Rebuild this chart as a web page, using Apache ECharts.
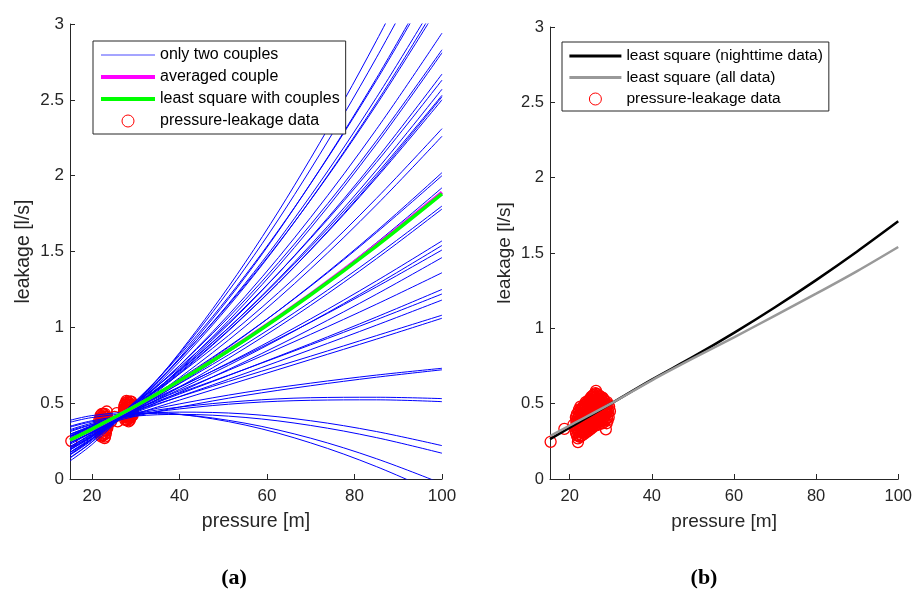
<!DOCTYPE html>
<html><head><meta charset="utf-8">
<script src="https://cdn.jsdelivr.net/npm/echarts@6/dist/echarts.min.js"></script>
<style>html,body{margin:0;padding:0;background:#fff}#c{width:915px;height:590px}</style>
</head><body><div id="c"></div>
<script>
// ---------- data ----------
const xTicks = [20, 40, 60, 80, 100];
const yTicks = [0, 0.5, 1, 1.5, 2, 2.5, 3];
const pressureGrid = [15, 20, 30, 40, 55, 70, 85, 100];
const coupleCurves = [
  [0.119,0.227,0.500,0.832,1.426,2.115,2.889,3.74],
  [0.138,0.244,0.507,0.825,1.390,2.044,2.777,3.58],
  [0.142,0.244,0.494,0.797,1.330,1.949,2.641,3.40],
  [0.162,0.264,0.515,0.814,1.341,1.948,2.627,3.37],
  [0.163,0.262,0.502,0.788,1.289,1.869,2.514,3.22],
  [0.158,0.255,0.491,0.773,1.270,1.842,2.480,3.18],
  [0.177,0.275,0.511,0.791,1.279,1.840,2.466,3.15],
  [0.174,0.267,0.487,0.748,1.203,1.725,2.305,2.94],
  [0.191,0.282,0.496,0.747,1.181,1.678,2.229,2.83],
  [0.175,0.264,0.476,0.725,1.159,1.655,2.207,2.81],
  [0.193,0.280,0.484,0.719,1.128,1.593,2.109,2.67],
  [0.213,0.301,0.503,0.735,1.134,1.587,2.087,2.63],
  [0.200,0.285,0.482,0.709,1.100,1.544,2.036,2.57],
  [0.212,0.297,0.491,0.715,1.098,1.531,2.010,2.53],
  [0.195,0.278,0.471,0.694,1.078,1.513,1.995,2.52],
  [0.205,0.288,0.481,0.701,1.081,1.510,1.985,2.50],
  [0.228,0.308,0.488,0.692,1.037,1.424,1.850,2.31],
  [0.214,0.292,0.467,0.667,1.005,1.386,1.806,2.26],
  [0.239,0.313,0.473,0.651,0.947,1.276,1.634,2.02],
  [0.249,0.323,0.483,0.659,0.950,1.272,1.624,2.00],
  [0.237,0.308,0.462,0.631,0.910,1.221,1.557,1.92],
  [0.254,0.323,0.470,0.628,0.886,1.169,1.474,1.80],
  [0.239,0.305,0.450,0.606,0.863,1.145,1.452,1.78],
  [0.271,0.335,0.467,0.604,0.822,1.056,1.306,1.57],
  [0.264,0.327,0.456,0.591,0.805,1.035,1.281,1.54],
  [0.283,0.348,0.475,0.608,0.815,1.034,1.266,1.51],
  [0.261,0.322,0.444,0.572,0.774,0.989,1.218,1.46],
  [0.285,0.346,0.464,0.582,0.763,0.954,1.152,1.36],
  [0.284,0.341,0.452,0.560,0.724,0.893,1.068,1.25],
  [0.294,0.352,0.461,0.567,0.724,0.885,1.050,1.22],
  [0.280,0.336,0.440,0.543,0.696,0.853,1.014,1.18],
  [0.296,0.350,0.449,0.542,0.677,0.810,0.945,1.08],
  [0.280,0.332,0.429,0.520,0.654,0.788,0.922,1.06],
  [0.312,0.358,0.434,0.495,0.571,0.632,0.685,0.73],
  [0.295,0.340,0.414,0.474,0.551,0.615,0.671,0.72],
  [0.326,0.368,0.431,0.474,0.515,0.536,0.539,0.53],
  [0.319,0.360,0.421,0.462,0.501,0.519,0.522,0.51],
  [0.348,0.384,0.426,0.441,0.429,0.384,0.313,0.22],
  [0.342,0.377,0.415,0.426,0.406,0.353,0.273,0.17],
  [0.374,0.405,0.432,0.425,0.368,0.269,0.134,-0.03],
  [0.387,0.418,0.441,0.427,0.356,0.238,0.082,-0.107]
];
const averagedCouple = [0.257,0.328,0.481,0.647,0.920,1.219,1.543,1.89];
const leastSquareCouples = [0.257,0.329,0.481,0.647,0.917,1.215,1.536,1.88];
const leftData = [
  [15.3,0.25],
  [21.7,0.39],[21.8,0.35],[21.9,0.31],[22.0,0.42],[22.1,0.37],[22.2,0.28],[22.3,0.33],[22.4,0.40],
  [22.5,0.36],[22.6,0.30],[22.6,0.43],[22.7,0.38],[22.8,0.34],[22.9,0.27],[22.9,0.41],[23.0,0.32],
  [23.1,0.37],[23.2,0.39],[23.2,0.30],[23.3,0.35],[23.4,0.445],[23.4,0.33],[23.5,0.38],[23.6,0.36],[23.5,0.41],
  [21.75,0.37],[21.85,0.33],[21.95,0.40],[22.05,0.29],[22.15,0.35],[22.25,0.41],[22.35,0.31],[22.45,0.38],
  [22.55,0.34],[22.65,0.40],[22.75,0.29],[22.85,0.36],[22.95,0.43],[23.05,0.34],[23.15,0.41],[23.25,0.32],
  [23.35,0.39],[23.45,0.36],[23.55,0.34],[22.3,0.43],[22.8,0.42],[23.0,0.28],[22.4,0.29],[23.6,0.39],
  [24.4,0.38],[25.2,0.41],[25.7,0.435],[25.9,0.38],
  [27.3,0.44],[27.4,0.48],[27.5,0.41],[27.6,0.46],[27.7,0.50],[27.8,0.43],[27.9,0.39],[28.0,0.47],
  [28.1,0.45],[28.2,0.51],[28.3,0.42],[28.4,0.49],[28.5,0.44],[28.6,0.40],[28.7,0.47],[28.8,0.51],
  [28.9,0.45],[29.0,0.43],[29.1,0.49],[29.2,0.46],[28.4,0.38],[27.9,0.515],[28.6,0.50],[29.4,0.44],[27.5,0.45],
  [27.35,0.46],[27.45,0.43],[27.55,0.49],[27.65,0.42],[27.75,0.47],[27.85,0.45],[27.95,0.41],[28.05,0.49],
  [28.15,0.43],[28.25,0.47],[28.35,0.45],[28.45,0.41],[28.55,0.48],[28.65,0.43],[28.75,0.45],[28.85,0.49],
  [28.95,0.41],[29.05,0.46],[29.15,0.44],[29.25,0.48],[29.3,0.42],[28.1,0.39],[28.7,0.39],[27.6,0.39],
  [28.3,0.50],[29.0,0.51]
];
const nightPressure = [15.2, 20, 30, 40, 50, 60, 70, 80, 90, 100];
const nightFit = [0.265,0.34,0.50,0.66,0.81,0.97,1.14,1.32,1.51,1.71];
const allFit = [0.285,0.355,0.50,0.655,0.80,0.94,1.085,1.23,1.38,1.54];
const rightData = [
  [15.35,0.247],[18.7,0.333],[20.9,0.36],[22.0,0.245],
  [21.5,0.31],[21.5,0.345],[21.6,0.38],[21.5,0.41],
  [21.75,0.29],[21.75,0.325],[21.75,0.36],[21.75,0.395],[21.75,0.43],
  [22.0,0.27],[22.1,0.30],[22.0,0.335],[21.9,0.37],[22.0,0.405],[22.1,0.44],
  [22.25,0.285],[22.25,0.32],[22.25,0.355],[22.25,0.39],[22.25,0.425],[22.25,0.46],
  [22.5,0.28],[22.4,0.315],[22.6,0.35],[22.5,0.385],[22.4,0.42],[22.6,0.455],[22.6,0.48],
  [22.75,0.29],[22.75,0.325],[22.75,0.36],[22.75,0.395],[22.75,0.43],[22.75,0.465],
  [23.0,0.29],[23.1,0.325],[22.9,0.36],[23.0,0.395],[23.1,0.43],[23.0,0.465],
  [23.25,0.31],[23.25,0.345],[23.25,0.38],[23.25,0.415],[23.25,0.45],[23.25,0.48],
  [23.5,0.30],[23.4,0.335],[23.6,0.37],[23.5,0.405],[23.4,0.44],[23.6,0.475],[23.5,0.49],
  [23.75,0.32],[23.75,0.355],[23.75,0.39],[23.75,0.425],[23.75,0.46],[23.75,0.495],
  [24.0,0.31],[24.1,0.345],[23.9,0.38],[24.0,0.415],[24.1,0.45],[24.0,0.485],[23.9,0.51],
  [24.25,0.33],[24.25,0.365],[24.25,0.40],[24.25,0.435],[24.25,0.47],[24.25,0.505],
  [24.5,0.32],[24.4,0.355],[24.6,0.39],[24.5,0.425],[24.4,0.46],[24.6,0.495],[24.5,0.52],
  [24.75,0.34],[24.75,0.375],[24.75,0.41],[24.75,0.445],[24.75,0.48],[24.75,0.515],
  [25.0,0.33],[25.1,0.365],[24.9,0.40],[25.0,0.435],[25.1,0.47],[25.0,0.505],[24.9,0.53],
  [25.25,0.35],[25.25,0.385],[25.25,0.42],[25.25,0.455],[25.25,0.49],[25.25,0.525],[25.25,0.545],
  [25.5,0.34],[25.4,0.375],[25.6,0.41],[25.5,0.445],[25.4,0.48],[25.6,0.515],[25.5,0.55],
  [25.75,0.36],[25.75,0.395],[25.75,0.43],[25.75,0.465],[25.75,0.50],[25.75,0.535],[25.75,0.555],
  [26.0,0.35],[26.1,0.385],[25.9,0.42],[26.0,0.455],[26.1,0.49],[26.0,0.525],[25.9,0.56],
  [26.25,0.37],[26.25,0.405],[26.25,0.44],[26.25,0.475],[26.25,0.51],[26.25,0.545],[26.25,0.57],
  [26.5,0.36],[26.4,0.395],[26.6,0.43],[26.5,0.465],[26.4,0.50],[26.6,0.535],[26.4,0.585],[26.5,0.565],
  [26.75,0.375],[26.75,0.41],[26.75,0.445],[26.75,0.48],[26.75,0.515],[26.75,0.55],
  [27.0,0.36],[27.1,0.395],[26.9,0.43],[27.0,0.465],[27.1,0.50],[27.0,0.535],[26.9,0.56],
  [27.25,0.38],[27.25,0.415],[27.25,0.45],[27.25,0.485],[27.25,0.52],[27.25,0.55],
  [27.5,0.37],[27.4,0.405],[27.6,0.44],[27.5,0.475],[27.4,0.51],[27.6,0.545],
  [27.75,0.385],[27.75,0.42],[27.75,0.455],[27.75,0.49],[27.75,0.525],
  [28.0,0.37],[28.1,0.405],[27.9,0.44],[28.0,0.475],[28.1,0.51],[28.0,0.54],
  [28.25,0.39],[28.25,0.425],[28.25,0.46],[28.25,0.495],[28.25,0.53],
  [28.5,0.38],[28.4,0.415],[28.6,0.45],[28.5,0.485],[28.4,0.52],
  [28.75,0.395],[28.75,0.43],[28.75,0.465],[28.75,0.50],
  [28.8,0.33],[29.0,0.37],[29.1,0.405],[28.9,0.44],[29.0,0.475],[29.1,0.51],
  [29.25,0.39],[29.25,0.425],[29.25,0.46],[29.25,0.495],
  [29.5,0.41],[29.4,0.445],[29.6,0.48],[29.8,0.45]
];

// ---------- chart ----------
const FF = "'Liberation Sans', Arial, Helvetica, sans-serif";
const AX = '#262626';
const pairs = (xs, ys) => xs.map((x, i) => [x, ys[i]]);

function xAxisCfg(gridIndex, min, fs, nfs) {
  return {
    type: 'value', gridIndex, min, max: 100,
    name: 'pressure [m]', nameLocation: 'middle', nameGap: 33,
    nameTextStyle: { fontSize: nfs, color: AX, fontFamily: FF },
    axisLine: { show: true, onZero: false, lineStyle: { color: AX, width: 1 } },
    axisTick: { show: true, inside: true, length: 5, customValues: xTicks, lineStyle: { color: AX } },
    axisLabel: { customValues: xTicks, margin: 9, fontSize: fs, color: AX, fontFamily: FF },
    splitLine: { show: false }
  };
}
function yAxisCfg(gridIndex, fs, nfs) {
  return {
    type: 'value', gridIndex, min: 0, max: 3, interval: 0.5,
    name: 'leakage [l/s]', nameLocation: 'middle', nameGap: 36,
    nameTextStyle: { fontSize: nfs, color: AX, fontFamily: FF },
    axisLine: { show: true, onZero: false, lineStyle: { color: AX, width: 1 } },
    axisTick: { show: true, inside: true, length: 5, customValues: yTicks, lineStyle: { color: AX } },
    axisLabel: { customValues: yTicks, margin: 6, fontSize: fs, color: AX, fontFamily: FF },
    splitLine: { show: false }
  };
}
function lineSeries(name, xi, data, color, width, smooth) {
  return {
    type: 'line', name, xAxisIndex: xi, yAxisIndex: xi, data,
    symbol: 'none', showSymbol: false, smooth: smooth, clip: true, silent: true,
    lineStyle: { color, width },
    itemStyle: { color: 'rgba(0,0,0,0)', borderWidth: 0, borderColor: 'rgba(0,0,0,0)' },
    emphasis: { disabled: true }, animation: false
  };
}
function scatterSeries(xi, data) {
  return {
    type: 'scatter', name: 'pressure-leakage data', xAxisIndex: xi, yAxisIndex: xi, data,
    symbol: 'circle', symbolSize: 11, silent: true,
    itemStyle: { color: 'rgba(0,0,0,0)', borderColor: '#ff0000', borderWidth: 1.3, opacity: 1 },
    emphasis: { disabled: true }, animation: false
  };
}

const series = [];
coupleCurves.forEach(c => series.push(lineSeries('only two couples', 0, pairs(pressureGrid, c), '#0000ff', 1, 0.35)));
series.push(lineSeries('averaged couple', 0, pairs(pressureGrid, averagedCouple), '#ff00ff', 3.5, 0.35));
series.push(lineSeries('least square with couples', 0, pairs(pressureGrid, leastSquareCouples), '#00ff00', 3.5, 0.35));
series.push(scatterSeries(0, leftData));
series.push(lineSeries('least square (nighttime data)', 1, pairs(nightPressure, nightFit), '#000000', 2.5, 0.3));
series.push(lineSeries('least square (all data)', 1, pairs(nightPressure, allFit), '#999999', 2.5, 0.3));
series.push(scatterSeries(1, rightData));

const circleItem = { name: 'pressure-leakage data', icon: 'circle',
  itemStyle: { color: 'rgba(0,0,0,0)', borderColor: '#ff0000', borderWidth: 1 } };
const lineItem = (name, color, width) => ({ name, lineStyle: { color, width } });

const option = {
  animation: false,
  backgroundColor: '#ffffff',
  grid: [
    { left: 70, top: 24, width: 372, height: 455 },
    { left: 550, top: 27, width: 351, height: 452 }
  ],
  xAxis: [xAxisCfg(0, 15, 17, 19.5), xAxisCfg(1, 15.2, 16.5, 19)],
  yAxis: [yAxisCfg(0, 17, 19.5), yAxisCfg(1, 16.5, 19)],
  legend: [
    { left: 93, top: 41, orient: 'vertical', itemWidth: 54, itemHeight: 12, itemGap: 6,
      padding: [6, 6, 5, 6], borderColor: AX, borderWidth: 1, backgroundColor: '#fff',
      selectedMode: false, textStyle: { fontSize: 16, color: '#000', fontFamily: FF },
      data: [lineItem('only two couples', '#4a4aff', 1), lineItem('averaged couple', '#ff00ff', 4),
             lineItem('least square with couples', '#00ff00', 4), circleItem] },
    { left: 562, top: 42, orient: 'vertical', itemWidth: 52, itemHeight: 12, itemGap: 5.5,
      padding: [6, 6, 4, 6], borderColor: AX, borderWidth: 1, backgroundColor: '#fff',
      selectedMode: false, textStyle: { fontSize: 15.5, color: '#000', fontFamily: FF },
      data: [lineItem('least square (nighttime data)', '#000000', 2.8),
             lineItem('least square (all data)', '#999999', 2.8), circleItem] }
  ],
  graphic: [
    { type: 'text', x: 234, y: 578, style: { text: '(a)', align: 'center', verticalAlign: 'middle',
      font: "bold 22px 'Liberation Serif', 'DejaVu Serif', serif", fill: '#000' } },
    { type: 'text', x: 704, y: 578, style: { text: '(b)', align: 'center', verticalAlign: 'middle',
      font: "bold 22px 'Liberation Serif', 'DejaVu Serif', serif", fill: '#000' } }
  ],
  series
};
const chart = echarts.init(document.getElementById('c'), null, { renderer: 'canvas' });
chart.setOption(option);
</script>
</body></html>
